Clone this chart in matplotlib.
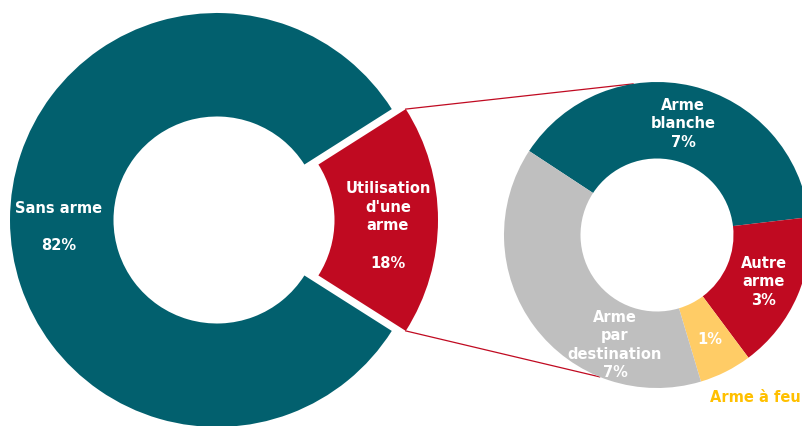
import numpy as np
import matplotlib.pyplot as plt

# main split
main_labels = ["Sans arme", "Utilisation\nd'une\narme"]
main_values = [82, 18]
main_colors = ["#02606e", "#c00a21"]

# detail of "Utilisation d'une arme"
sub_labels = ["Arme\nblanche", "Autre\narme", "Arme à feu", "Arme\npar\ndestination"]
sub_values = [7, 3, 1, 7]
sub_colors = ["#02606e", "#c00a21", "#ffcc66", "#bfbfbf"]

fig = plt.figure(figsize=(8.02, 4.26), dpi=100)
ax = fig.add_axes([0, 0, 1, 1])

big_c = (217, 206)
big_r = 207
small_c = (657, 191)
small_r = 153

start = 180 * main_values[1] / 100
# explode is an absolute offset here (data units = pixels)
w1, _ = ax.pie(main_values, colors=main_colors, startangle=start, center=big_c,
               radius=big_r, explode=[0, 14], frame=True,
               wedgeprops=dict(width=big_r / 2, linewidth=0))

w2, _ = ax.pie(sub_values, colors=sub_colors, startangle=146.7, counterclock=False,
               center=small_c, radius=small_r, frame=True,
               wedgeprops=dict(width=small_r / 2, linewidth=0))

# connector lines from red slice to detail donut
red = w1[1]
cx, cy = red.center
p_top = (cx + big_r * np.cos(np.radians(red.theta2)), cy + big_r * np.sin(np.radians(red.theta2)))
p_bot = (cx + big_r * np.cos(np.radians(red.theta1)), cy + big_r * np.sin(np.radians(red.theta1)))
q_top = (small_c[0] + small_r * np.cos(np.radians(99)), small_c[1] + small_r * np.sin(np.radians(99)))
q_bot = (small_c[0] + small_r * np.cos(np.radians(-112)), small_c[1] + small_r * np.sin(np.radians(-112)))
ax.plot([p_top[0], q_top[0]], [p_top[1], q_top[1]], color="#c00a21", lw=0.9, zorder=0)
ax.plot([p_bot[0], q_bot[0]], [p_bot[1], q_bot[1]], color="#c00a21", lw=0.9, zorder=0)

fs = 10.5
tk = dict(color="white", fontsize=fs, fontweight="bold", ha="center", va="center",
          linespacing=1.3, family="DejaVu Sans")
ax.text(59, 426 - 227, main_labels[0] + "\n\n" + str(main_values[0]) + "%", **tk)
ax.text(388, 426 - 226, main_labels[1] + "\n\n" + str(main_values[1]) + "%", **tk)
ax.text(683, 426 - 124, sub_labels[0] + "\n" + str(sub_values[0]) + "%", **tk)
ax.text(764, 426 - 282, sub_labels[1] + "\n" + str(sub_values[1]) + "%", **tk)
ax.text(710, 426 - 340, str(sub_values[2]) + "%", **tk)
ax.text(615, 426 - 345, sub_labels[3] + "\n" + str(sub_values[3]) + "%", **tk)
ax.text(755, 426 - 397, sub_labels[2], color="#ffc000", fontsize=fs,
        fontweight="bold", ha="center", va="center")

ax.set_xlim(0, 802)
ax.set_ylim(0, 426)
ax.set_aspect("auto")
ax.axis("off")

plt.savefig("out.png", dpi=100)
